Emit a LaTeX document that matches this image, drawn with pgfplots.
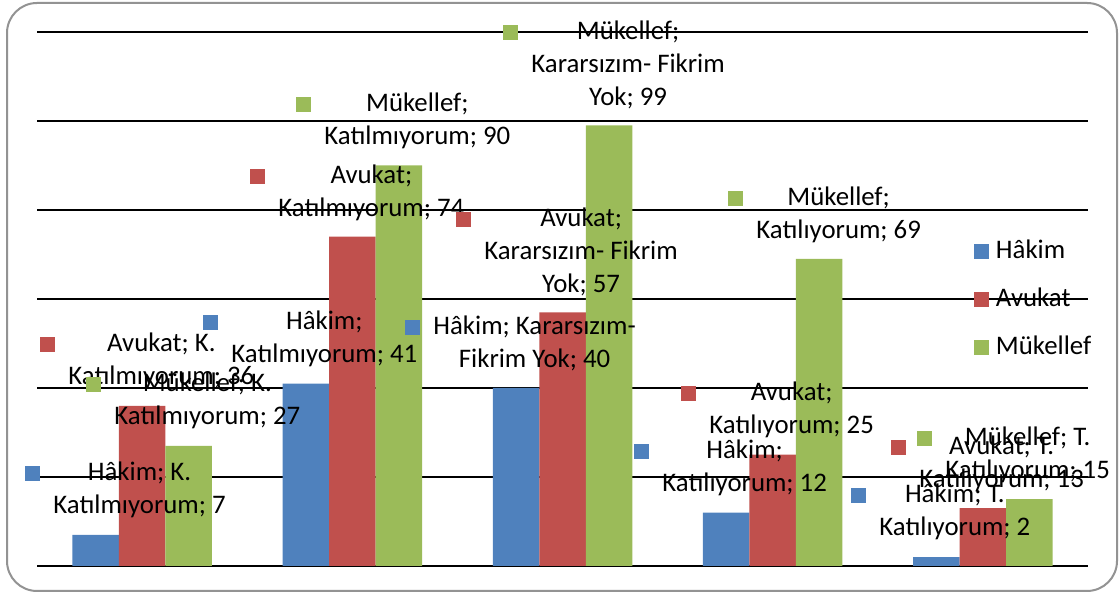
\documentclass[border=0pt]{standalone}
\usepackage{pgfplots}
\pgfplotsset{compat=1.18}
\usepackage{fontspec}
\setmainfont{Carlito}
\definecolor{hak}{RGB}{79,129,189}
\definecolor{avu}{RGB}{192,80,77}
\definecolor{muk}{RGB}{155,187,89}
\newcommand{\lab}[2]{{\color{#1}\rule{7.5pt}{7.5pt}}\hspace{6.5pt}\begin{tabular}[t]{@{}c@{}}#2\end{tabular}}
\begin{document}
\begin{tikzpicture}
\useasboundingbox (0,0) rectangle (559.5pt,296.5pt);
\begin{axis}[
  at={(18.5pt,13.5pt)}, anchor=south west,
  width=525.5pt, height=267pt, scale only axis,
  ybar=0pt, bar width=23.25pt,
  xmin=-0.5, xmax=4.5, ymin=0, ymax=120,
  ytick={0,20,...,120}, yticklabels={}, xtick=\empty,
  ymajorgrids, grid style={black, line width=1pt},
  axis line style={draw=none}, major tick length=0pt,
  clip=false,
  legend image code/.code={\fill[#1,draw=none] (0pt,-4pt) rectangle (7.5pt,3.5pt);},
  legend cell align=left,
  legend style={at={(0.8915,0.614)}, anchor=north west, draw=none, fill=none,
    inner sep=0pt, outer sep=0pt, row sep=11pt,
    font=\fontsize{13.4pt}{16.5pt}\selectfont,
    nodes={inner sep=0pt, text height=10pt, text depth=3pt},
    /tikz/every odd column/.append style={column sep=3.5pt}},
]
\addplot[fill=hak, draw=none] coordinates {(0,7) (1,41) (2,40) (3,12) (4,2)};
\addplot[fill=avu, draw=none] coordinates {(0,36) (1,74) (2,57) (3,25) (4,13)};
\addplot[fill=muk, draw=none] coordinates {(0,27) (1,90) (2,99) (3,69) (4,15)};
\legend{Hâkim, Avukat, Mükellef}
\end{axis}
\draw[gray!85, line width=1pt, rounded corners=15pt] (3.5pt,1pt) rectangle (558.5pt,295pt);
\begin{scope}[x=0.5pt, y=-0.5pt, yshift=296.5pt,
  every node/.style={anchor=base west, inner sep=0pt, font=\fontsize{13.4pt}{16.5pt}\selectfont}]
\node at (25,481) {\lab{hak}{Hâkim; K.\\Katılmıyorum; 7}};
\node at (40,352) {\lab{avu}{Avukat; K.\\Katılmıyorum; 36}};
\node at (86,392) {\lab{muk}{Mükellef; K.\\Katılmıyorum; 27}};
\node at (203,330) {\lab{hak}{Hâkim;\\Katılmıyorum; 41}};
\node at (250,184) {\lab{avu}{Avukat;\\Katılmıyorum; 74}};
\node at (296,112) {\lab{muk}{Mükellef;\\Katılmıyorum; 90}};
\node at (405,335) {\lab{hak}{Hâkim; Kararsızım-\\Fikrim Yok; 40}};
\node at (456,227) {\lab{avu}{Avukat;\\Kararsızım- Fikrim\\Yok; 57}};
\node at (503,40) {\lab{muk}{Mükellef;\\Kararsızım- Fikrim\\Yok; 99}};
\node at (634,459) {\lab{hak}{Hâkim;\\Katılıyorum; 12}};
\node at (681,401) {\lab{avu}{Avukat;\\Katılıyorum; 25}};
\node at (728,206) {\lab{muk}{Mükellef;\\Katılıyorum; 69}};
\node at (851,503) {\lab{hak}{Hâkim; T.\\Katılıyorum; 2}};
\node at (891,455) {\lab{avu}{Avukat; T.\\Katılıyorum; 13}};
\node at (917,446) {\lab{muk}{Mükellef; T.\\Katılıyorum; 15}};
\end{scope}
\end{tikzpicture}
\end{document}
